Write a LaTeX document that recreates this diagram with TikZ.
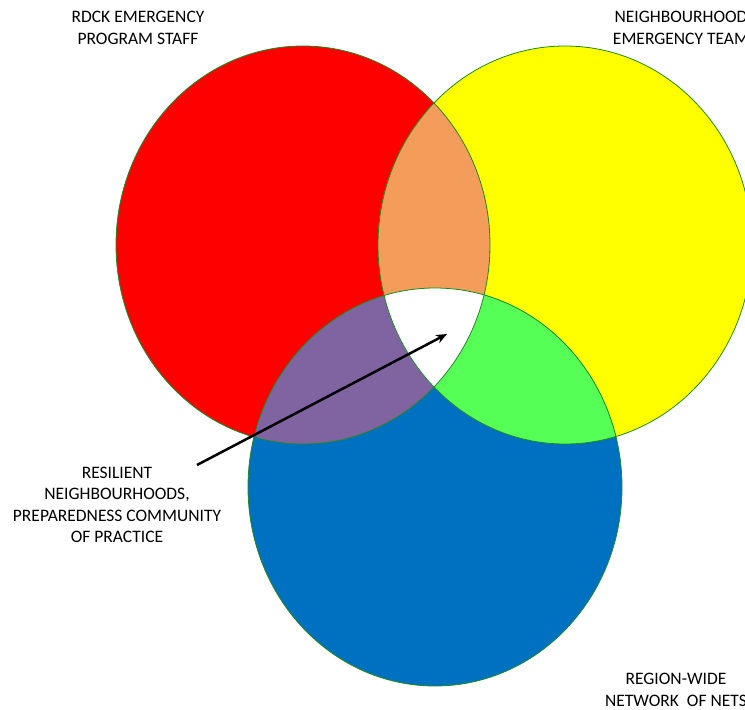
\documentclass[tikz,border=0pt]{standalone}
\usepackage{fontspec}
\setmainfont{Carlito}
\usetikzlibrary{arrows.meta}

\definecolor{staffred}{HTML}{FF0000}
\definecolor{teamyellow}{HTML}{FFFF00}
\definecolor{netsblue}{HTML}{0070C0}
\definecolor{mixorange}{HTML}{F49D5A}
\definecolor{mixpurple}{HTML}{8064A2}
\definecolor{mixgreen}{HTML}{55FF55}
\definecolor{rimgreen}{HTML}{1E8A1E}

\tikzset{
  venntext/.style={align=center, inner sep=0pt, font=\fontsize{17.5}{21.3}\selectfont},
  rim/.style={draw=rimgreen, line width=0.8pt},
}

\begin{document}
\begin{tikzpicture}[x=1pt, y=-1pt]
    \useasboundingbox (0,0) rectangle (745,710);
    % Draw the three circles
    \def\rx{187}
    \def\ry{199}
    \fill[staffred] (303,245) ellipse (\rx pt and \ry pt);
    \fill[teamyellow] (565,245) ellipse (\rx pt and \ry pt);
    \fill[netsblue] (435,487) ellipse (\rx pt and \ry pt);

    % Draw the overlaps
    \begin{scope}
        \clip (303,245) ellipse (\rx pt and \ry pt);
        \fill[mixorange] (565,245) ellipse (\rx pt and \ry pt);
        \fill[mixpurple] (435,487) ellipse (\rx pt and \ry pt);
    \end{scope}
    \begin{scope}
        \clip (565,245) ellipse (\rx pt and \ry pt);
        \fill[mixgreen] (435,487) ellipse (\rx pt and \ry pt);
    \end{scope}
    \begin{scope}
        \clip (303,245) ellipse (\rx pt and \ry pt);
        \clip (565,245) ellipse (\rx pt and \ry pt);
        \fill[white] (435,487) ellipse (\rx pt and \ry pt);
    \end{scope}

    % Draw the rims
    \draw[rim] (303,245) ellipse (\rx pt and \ry pt);
    \draw[rim] (565,245) ellipse (\rx pt and \ry pt);
    \draw[rim] (435,487) ellipse (\rx pt and \ry pt);

    % Draw labels
    \node[venntext] (staff) at (138,28) {RDCK EMERGENCY\\PROGRAM STAFF};
    \node[venntext] (team) at (681,28) {NEIGHBOURHOOD\\EMERGENCY TEAM};
    \node[venntext] (resilient) at (117,505) {RESILIENT\\NEIGHBOURHOODS,\\PREPAREDNESS COMMUNITY\\OF PRACTICE};
    \node[venntext] (nets) at (676,690) {REGION-WIDE\\NETWORK\ \ OF NETS};

    % Draw arrow into the centre
    \coordinate (tail) at (197,465);
    \coordinate (tip) at (447,334);
    \draw[-{Stealth[length=11pt, width=9pt]}, line width=2.5pt] (tail) -- (tip);
\end{tikzpicture}
\end{document}
